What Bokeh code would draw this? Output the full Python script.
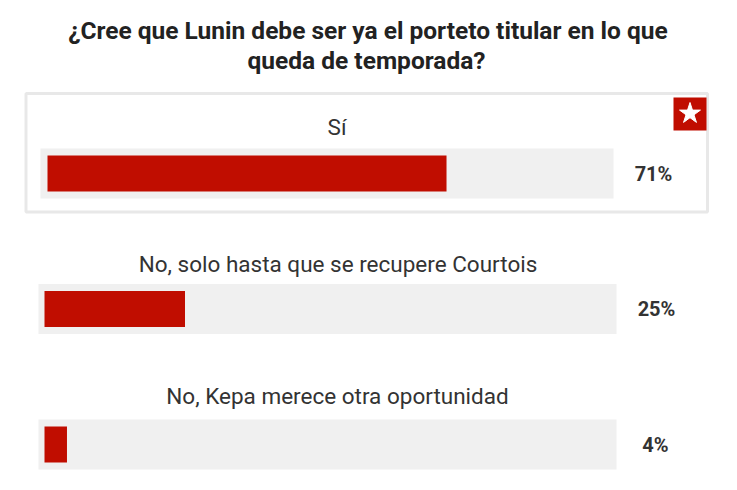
from bokeh.plotting import figure
from bokeh.models import Range1d
from bokeh.core.properties import value
from bokeh.embed import file_html
from bokeh.resources import INLINE

# ---- data ----
title_lines = ["¿Cree que Lunin debe ser ya el porteto titular en lo que",
               "queda de temporada?"]
labels = ["Sí", "No, solo hasta que se recupere Courtois",
          "No, Kepa merece otra oportunidad"]
values = [71, 25, 4]
pct_labels = ["71%", "25%", "4%"]

# ---- layout (page pixels) ----
X0PX = 44.0      # pixel where 0% starts
PXPER = 5.62     # pixels per percent


def xp(px):
    return (px - X0PX) / PXPER


label_y = [126.5, 263.5, 395.5]
bar_y = [173, 308.5, 444]
track_l = [40, 38, 38]
track_r = [613, 616, 616]
bar_l = [47, 44, 44]
pct_x = [653, 656, 655]

p = figure(width=721, height=474, output_backend="svg", toolbar_location=None,
           x_range=Range1d(xp(0), xp(721)), y_range=Range1d(474, 0),
           min_border=0, x_axis_location=None, y_axis_location=None)
p.grid.visible = False
p.outline_line_color = None
p.background_fill_color = "white"
p.border_fill_color = "white"

# highlighted box for winner
p.quad(left=[xp(25.5)], right=[xp(707)], top=[93], bottom=[211.5],
       fill_color="white", line_color="#e8e8e8", line_width=3)

# tracks
p.hbar(y=bar_y, left=[xp(v) for v in track_l], right=[xp(v) for v in track_r],
       height=50, fill_color="#f0f0f0", line_color=None)

# bars
lefts = [xp(v) for v in bar_l]
p.hbar(y=bar_y, left=lefts, right=[l + v for l, v in zip(lefts, values)],
       height=36, fill_color="#c00d00", line_color=None)

# option labels
p.text(x=[xp(v) for v in [336.5, 337.5, 337]], y=label_y, text=labels,
       text_font=value("Roboto"), text_font_size=value("22.5px"),
       text_color="#333333", text_align="center", text_baseline="middle")

# percentages
p.text(x=[xp(v) for v in pct_x], y=bar_y, text=pct_labels,
       text_font=value("Roboto"), text_font_size=value("20px"),
       text_font_style="bold", text_color="#333333",
       text_align="center", text_baseline="middle")

# title
p.text(x=[xp(367.5), xp(366)], y=[30, 60], text=title_lines,
       text_font=value("Roboto"), text_font_size=value("24.5px"),
       text_font_style="bold", text_color="#222222",
       text_align="center", text_baseline="middle")

# star badge
p.scatter(x=[xp(689.5)], y=[113.5], marker="square", size=33,
          fill_color="#c00d00", line_color=None)
p.scatter(x=[xp(689.5)], y=[113], marker="star", size=22,
          fill_color="white", line_color="white", line_width=1)

open("out.html", "w").write(file_html(p, INLINE))
